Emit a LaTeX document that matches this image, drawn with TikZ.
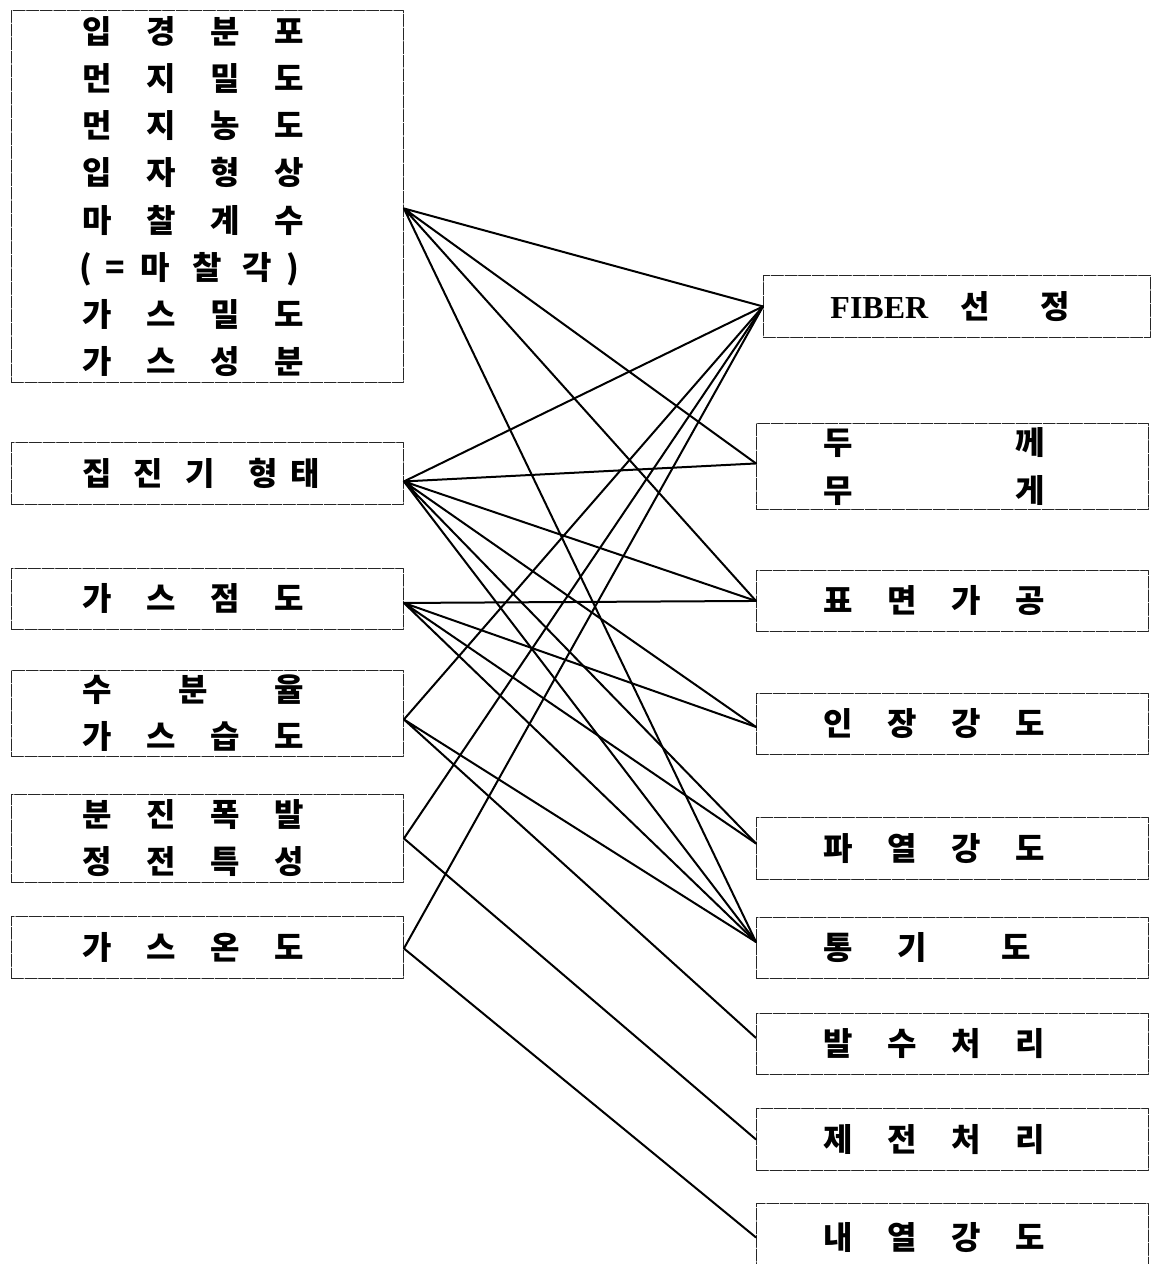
\documentclass[tikz,border=0pt]{standalone}
\usepackage{fontspec}
\setmainfont{Noto Sans CJK KR}
\newfontfamily\latn{Liberation Serif}
\setlength{\parindent}{0pt}
\newcommand\ch[1]{\makebox[32pt]{#1}}
\begin{document}
\begin{tikzpicture}[x=0.5pt,y=-0.5pt,line join=round,line cap=round,
		font=\fontsize{16}{23.6}\selectfont\bfseries,
		box/.style={draw=black!85,line width=0.45pt,dash pattern=on 6pt off 0.8pt,
			anchor=north west,align=left,inner ysep=0pt},
		lbox/.style={box,inner xsep=27pt,text width=142pt},
		rbox/.style={box,inner xsep=25pt,text width=146pt},
		link/.style={line width=1pt}]
	\useasboundingbox (0,0) rectangle (1152,1264);
	% factors of gas and dust (left)
	\node[lbox,minimum height=186pt] (L1) at (11,10) {\ch{입}\ch{경}\ch{분}\ch{포}\\
		\ch{먼}\ch{지}\ch{밀}\ch{도}\\
		\ch{먼}\ch{지}\ch{농}\ch{도}\\
		\ch{입}\ch{자}\ch{형}\ch{상}\\
		\ch{마}\ch{찰}\ch{계}\ch{수}\\
		\makebox[20pt]{(}\makebox[10pt]{=}\makebox[30pt]{마}\makebox[22pt]{찰}\makebox[28pt]{각}\makebox[7pt]{)}\\
		\ch{가}\ch{스}\ch{밀}\ch{도}\\
		\ch{가}\ch{스}\ch{성}\ch{분}};
	\node[lbox,minimum height=31pt] (L2) at (11,442) {\ch{집}\makebox[19pt]{진}\makebox[33pt]{기}\makebox[30pt]{형}\makebox[12pt]{태}};
	\node[lbox,minimum height=30.5pt] (L3) at (11,568) {\ch{가}\ch{스}\ch{점}\ch{도}};
	\node[lbox,minimum height=43pt] (L4) at (11,670) {\ch{수}\makebox[64pt]{분}\ch{율}\\
		\ch{가}\ch{스}\ch{습}\ch{도}};
	\node[lbox,minimum height=44pt] (L5) at (11,794) {\ch{분}\ch{진}\ch{폭}\ch{발}\\
		\ch{정}\ch{전}\ch{특}\ch{성}};
	\node[lbox,minimum height=31pt] (L6) at (11,916) {\ch{가}\ch{스}\ch{온}\ch{도}};
	% filter cloth (right)
	\node[box,inner xsep=33.5pt,text width=126.5pt,minimum height=31pt] (R1) at (763,275)
		{\makebox[59pt][l]{\latn\fontsize{16}{16}\selectfont FIBER}\makebox[27pt]{선}\hspace{19pt}정};
	\node[rbox,minimum height=43pt] (R2) at (756,423) {\ch{두}\hspace{64pt}\ch{께}\\
		\ch{무}\hspace{64pt}\ch{게}};
	\node[rbox,minimum height=30.5pt] (R3) at (756,570) {\ch{표}\ch{면}\ch{가}\ch{공}};
	\node[rbox,minimum height=30.5pt] (R4) at (756,693) {\ch{인}\ch{장}\ch{강}\ch{도}};
	\node[rbox,minimum height=31pt] (R5) at (756,817) {\ch{파}\ch{열}\ch{강}\ch{도}};
	\node[rbox,minimum height=30.5pt] (R6) at (756,917) {\ch{통}\makebox[42pt]{기}\makebox[62pt]{도}};
	\node[rbox,minimum height=30.5pt] (R7) at (756,1013) {\ch{발}\ch{수}\ch{처}\ch{리}};
	\node[rbox,minimum height=31pt] (R8) at (756,1108) {\ch{제}\ch{전}\ch{처}\ch{리}};
	\node[rbox,minimum height=34pt] (R9) at (756,1203) {\ch{내}\ch{열}\ch{강}\ch{도}};
	% end points of the links
	\path ([yshift=-6pt]L1.east) coordinate (p1)
	([yshift=-4pt]L2.east) coordinate (p2)
	([yshift=-2pt]L3.east) coordinate (p3)
	([yshift=-3pt]L4.east) coordinate (p4)
	(L5.east) coordinate (p5)
	([yshift=-0.5pt]L6.east) coordinate (p6)
	(R1.west) coordinate (q1)
	([yshift=1.5pt]R2.west) coordinate (q2)
	(R3.west) coordinate (q3)
	([yshift=-1.5pt]R4.west) coordinate (q4)
	([yshift=2.5pt]R5.west) coordinate (q5)
	([yshift=3pt]R6.west) coordinate (q6)
	([yshift=3pt]R7.west) coordinate (q7)
	(R8.west) coordinate (q8)
	(R9.west) coordinate (q9);
	% ve cac duong noi
	\draw[link] (p1)--(q1) (p1)--(q2) (p1)--(q3) (p1)--(q6);
	\draw[link] (p2)--(q1) (p2)--(q2) (p2)--(q3) (p2)--(q4) (p2)--(q5) (p2)--(q6);
	\draw[link] (p3)--(q3) (p3)--(q4) (p3)--(q5) (p3)--(q6);
	\draw[link] (p4)--(q1) (p4)--(q6) (p4)--(q7);
	\draw[link] (p5)--(q1) (p5)--(q8);
	\draw[link] (p6)--(q1) (p6)--(q9);
\end{tikzpicture}
\end{document}
